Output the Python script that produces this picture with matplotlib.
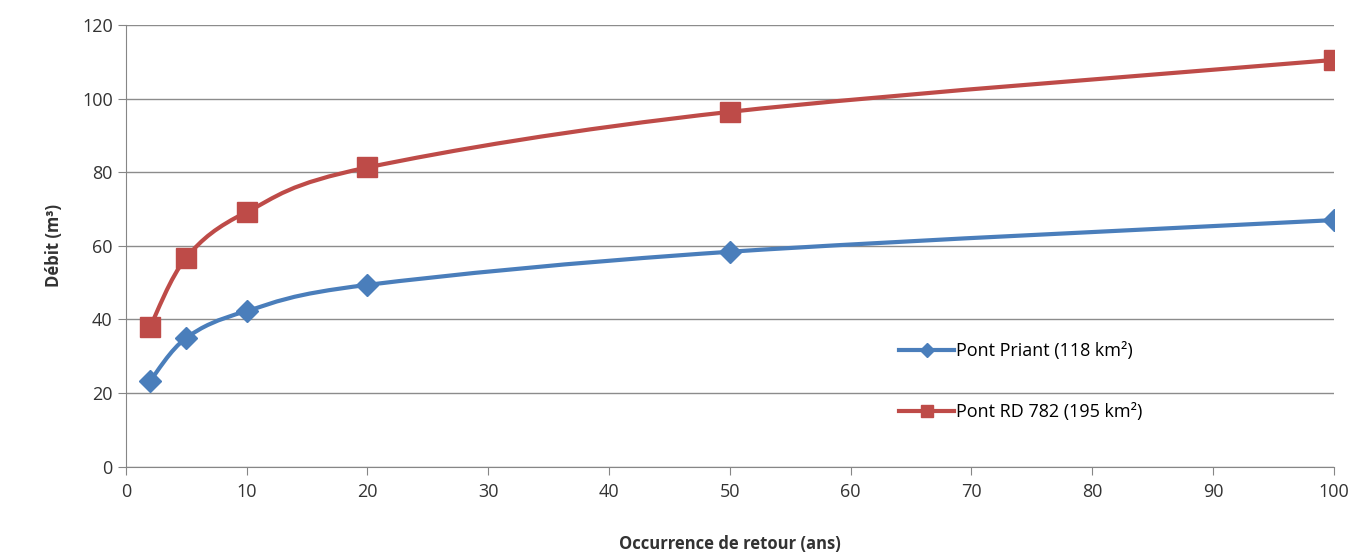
import numpy as np
import matplotlib
matplotlib.use('Agg')
import matplotlib.pyplot as plt
from matplotlib.path import Path
from matplotlib.patches import PathPatch

# return periods (years)
occurrence = [2, 5, 10, 20, 50, 100]
pont_priant = [23.3, 35.0, 42.3, 49.4, 58.4, 67.0]
pont_rd782 = [38.0, 56.8, 69.2, 81.3, 96.4, 110.5]

x_ticks = [0, 10, 20, 30, 40, 50, 60, 70, 80, 90, 100]
y_ticks = [0, 20, 40, 60, 80, 100, 120]

BLUE = '#4a7ebb'
RED = '#be4b48'


def smooth_path(xs, ys):
    # Excel style smoothed line: cubic bezier with catmull-rom control points
    xs = np.asarray(xs, float)
    ys = np.asarray(ys, float)
    verts = [(xs[0], ys[0])]
    codes = [Path.MOVETO]
    n = len(xs)
    for i in range(n - 1):
        p0 = np.array([xs[max(i - 1, 0)], ys[max(i - 1, 0)]])
        p1 = np.array([xs[i], ys[i]])
        p2 = np.array([xs[i + 1], ys[i + 1]])
        p3 = np.array([xs[min(i + 2, n - 1)], ys[min(i + 2, n - 1)]])
        c1 = p1 + (p2 - p0) / 6.0
        c2 = p2 - (p3 - p1) / 6.0
        verts += [tuple(c1), tuple(c2), tuple(p2)]
        codes += [Path.CURVE4, Path.CURVE4, Path.CURVE4]
    return Path(verts, codes)


plt.rcParams['font.family'] = ['Open Sans', 'DejaVu Sans']

fig = plt.figure(figsize=(13.54, 5.55), dpi=100)
ax = fig.add_axes([0.093, 0.159, 0.892, 0.796])

for ys, col in [(pont_priant, BLUE), (pont_rd782, RED)]:
    ax.add_patch(PathPatch(smooth_path(occurrence, ys), facecolor='none',
                           edgecolor=col, lw=3, zorder=3, capstyle='round'))

ax.plot(occurrence, pont_priant, linestyle='none', marker='D', markersize=11,
        color=BLUE, zorder=4)
ax.plot(occurrence, pont_rd782, linestyle='none', marker='s', markersize=14,
        color=RED, zorder=4)

# legend handles
ax.plot([], [], color=BLUE, lw=3, marker='D', markersize=7, label='Pont Priant (118 km²)')
ax.plot([], [], color=RED, lw=3, marker='s', markersize=9, label='Pont RD 782 (195 km²)')

ax.set_xlim(0, 100)
ax.set_ylim(0, 120)
ax.set_xticks(x_ticks)
ax.set_yticks(y_ticks)
ax.grid(axis='y', color='#8c8c8c', lw=1)
ax.set_axisbelow(True)
for s in ['top', 'right']:
    ax.spines[s].set_visible(False)
ax.spines['left'].set_color('#868686')
ax.spines['bottom'].set_color('#868686')
ax.tick_params(axis='both', colors='#868686', length=6, labelsize=13, labelcolor='#333333')
ax.tick_params(axis='x', pad=6)

ax.set_xlabel('Occurrence de retour (ans)', fontsize=12, fontweight='bold', color='#333333', labelpad=24)
ax.set_ylabel('Débit (m³)', fontsize=12, fontweight='bold', color='#333333', labelpad=14)

leg = ax.legend(loc='center left', bbox_to_anchor=(0.627, 0.193), frameon=False,
                fontsize=13, handlelength=3.0, labelspacing=2.4, handletextpad=0.15)

fig.savefig('out.png', dpi=100)
